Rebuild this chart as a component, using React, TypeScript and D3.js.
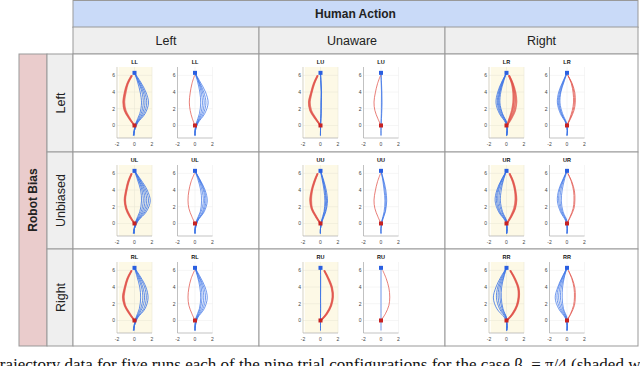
import React, { useEffect } from 'react';
import * as d3 from 'd3';

// table labels
const HUMAN_ACTIONS = ['Left', 'Unaware', 'Right'];
const ROBOT_BIASES = ['Left', 'Unbiased', 'Right'];
const CELL_IDS = [
  ['LL', 'LU', 'LR'],
  ['UL', 'UU', 'UR'],
  ['RL', 'RU', 'RR'],
];

// axis ticks
const X_TICKS = [-2, 0, 2];
const Y_TICKS = [0, 2, 4, 6];

// y levels the trajectories were sampled at (human walks up, robot walks down)
const RED_Y = [0, 0.8, 1.8, 2.8, 3.9, 5, 6];
const BLUE_Y = [6.3, 5.2, 4, 2.7, 1.4, 0.3, -0.6, -1.2];

// executed runs (shaded plot) - x at each RED_Y / BLUE_Y level
const execRed: Record<string, number[][]> = {
  LL: [[0, -0.55, -1.1, -1.25, -1.1, -0.8, -0.3], [0, -0.5, -1.0, -1.15, -1.0, -0.75, -0.25], [0, -0.6, -1.15, -1.3, -1.15, -0.85, -0.35]],
  LU: [[0, -0.55, -1.15, -1.3, -1.05, -0.75, -0.3], [0, -0.5, -1.05, -1.2, -1.0, -0.7, -0.3], [0, -0.6, -1.2, -1.35, -1.1, -0.8, -0.35]],
  LR: [[0.05, 0.55, 1.0, 1.15, 1.05, 0.75, 0.3], [0.05, 0.45, 0.85, 1.0, 0.95, 0.7, 0.3], [0.05, 0.35, 0.7, 0.85, 0.85, 0.65, 0.25], [0.05, 0.3, 0.6, 0.75, 0.75, 0.6, 0.25]],
  UL: [[0, -0.5, -0.95, -1.1, -0.95, -0.7, -0.3], [0, -0.45, -0.9, -1.05, -0.9, -0.65, -0.3], [0, -0.55, -1.0, -1.15, -1.0, -0.75, -0.35]],
  UU: [[0, -0.5, -1.0, -1.15, -1.0, -0.7, -0.3], [0, -0.45, -0.95, -1.05, -0.95, -0.65, -0.3], [0, -0.55, -1.05, -1.2, -1.05, -0.75, -0.35]],
  UR: [[0.05, 0.5, 0.95, 1.1, 1.0, 0.75, 0.35], [0.05, 0.45, 0.85, 1.0, 0.95, 0.7, 0.3], [0.05, 0.55, 1.0, 1.15, 1.05, 0.8, 0.35]],
  RL: [[0, -0.55, -1.1, -1.3, -1.1, -0.8, -0.3], [0, -0.5, -1.05, -1.2, -1.05, -0.75, -0.3], [0, -0.6, -1.15, -1.35, -1.15, -0.85, -0.35]],
  RU: [[0.05, 0.7, 1.2, 1.4, 1.3, 0.9, 0.4], [0.05, 0.65, 1.15, 1.35, 1.25, 0.85, 0.4], [0.05, 0.75, 1.25, 1.45, 1.35, 0.95, 0.45]],
  RR: [[0.05, 0.7, 1.2, 1.4, 1.35, 0.95, 0.4], [0.05, 0.65, 1.15, 1.35, 1.3, 0.9, 0.4], [0.05, 0.75, 1.25, 1.45, 1.4, 1.0, 0.45]],
};

const execBlue: Record<string, number[][]> = {
  LL: [[0, 0.7, 1.3, 1.6, 1.2, 0.35, 0, -0.15], [0, 0.6, 1.15, 1.4, 1.05, 0.3, 0, -0.1], [0, 0.5, 1.0, 1.2, 0.9, 0.25, -0.05, -0.1], [0, 0.45, 0.85, 1.0, 0.75, 0.2, -0.05, -0.05], [0, 0.35, 0.65, 0.8, 0.6, 0.15, 0, -0.05]],
  LU: [[0, 0.05, 0.1, 0.05, 0.08, 0.02, 0, 0], [0, 0.03, 0.12, 0.08, 0.05, 0, 0, -0.02], [0, 0.06, 0.08, 0.1, 0.06, 0.03, 0, 0]],
  LR: [[0, -0.55, -1.0, -1.2, -0.8, -0.1, 0.1, 0.05], [0, -0.5, -0.9, -1.05, -0.7, -0.05, 0.1, 0.05], [0, -0.45, -0.8, -0.95, -0.6, 0, 0.05, 0], [0, -0.4, -0.75, -0.85, -0.5, 0, 0.05, 0], [0, -0.35, -0.65, -0.75, -0.45, 0.05, 0.05, 0]],
  UL: [[0, 0.75, 1.45, 1.8, 1.35, 0.4, 0, -0.15], [0, 0.65, 1.3, 1.6, 1.2, 0.35, 0, -0.1], [0, 0.6, 1.15, 1.4, 1.05, 0.3, -0.05, -0.1], [0, 0.5, 1.0, 1.2, 0.9, 0.25, -0.05, -0.05], [0, 0.45, 0.85, 1.0, 0.75, 0.2, 0, -0.05], [0, 0.35, 0.7, 0.8, 0.6, 0.15, 0, 0]],
  UU: [[0, 0.35, 0.65, 0.8, 0.6, 0.2, 0, -0.05], [0, 0.3, 0.55, 0.7, 0.55, 0.15, 0, 0], [0, 0.25, 0.5, 0.6, 0.45, 0.15, 0, 0], [0, 0.2, 0.4, 0.5, 0.4, 0.1, 0, 0]],
  UR: [[0, -0.6, -1.1, -1.3, -0.9, -0.15, 0.1, 0.05], [0, -0.55, -1.0, -1.15, -0.8, -0.1, 0.05, 0.05], [0, -0.5, -0.9, -1.0, -0.7, -0.05, 0.05, 0], [0, -0.4, -0.75, -0.85, -0.55, 0, 0.05, 0], [0, -0.35, -0.6, -0.7, -0.45, 0, 0, 0]],
  RL: [[0, 0.7, 1.3, 1.55, 1.2, 0.35, 0, -0.15], [0, 0.6, 1.15, 1.35, 1.05, 0.3, 0, -0.1], [0, 0.5, 0.95, 1.15, 0.85, 0.25, -0.05, -0.1], [0, 0.4, 0.8, 0.95, 0.7, 0.2, -0.05, -0.05], [0, 0.3, 0.6, 0.7, 0.55, 0.15, 0, -0.05]],
  RU: [[0, 0, 0, 0, 0, 0, 0, 0], [0, 0.02, 0.02, 0.01, 0.02, 0, 0, 0]],
  RR: [[0, -0.65, -1.2, -1.5, -1.1, -0.2, 0.1, 0.05], [0, -0.55, -1.0, -1.15, -0.8, -0.1, 0.05, 0.05], [0, -0.45, -0.85, -0.95, -0.65, -0.05, 0.05, 0], [0, -0.35, -0.7, -0.75, -0.5, 0, 0.05, 0], [0, -0.3, -0.55, -0.6, -0.4, 0, 0, 0]],
};

// planned runs (unshaded plot)
const planRed: Record<string, number[][]> = {
  LL: [[0, -0.3, -0.55, -0.65, -0.55, -0.35, -0.05]],
  LU: [[0, -0.35, -0.7, -0.8, -0.65, -0.4, -0.05]],
  LR: [[0, 0.4, 0.8, 0.95, 0.9, 0.6, 0.1], [0, 0.35, 0.7, 0.85, 0.8, 0.55, 0.1], [0, 0.3, 0.6, 0.75, 0.7, 0.5, 0.1]],
  UL: [[0, -0.35, -0.7, -0.8, -0.7, -0.45, -0.05]],
  UU: [[0, -0.35, -0.7, -0.8, -0.65, -0.4, -0.05]],
  UR: [[0, 0.4, 0.8, 0.9, 0.85, 0.55, 0.1], [0, 0.35, 0.7, 0.8, 0.75, 0.5, 0.1]],
  RL: [[0, -0.35, -0.7, -0.8, -0.7, -0.45, -0.05]],
  RU: [[0, 0.5, 0.9, 1.0, 0.9, 0.6, 0.2]],
  RR: [[0, 0.45, 0.85, 0.95, 0.9, 0.6, 0.15], [0, 0.4, 0.75, 0.85, 0.8, 0.55, 0.15]],
};

const planBlue: Record<string, number[][]> = {
  LL: [[0, 0.6, 1.2, 1.5, 1.1, 0.35, 0.05, 0], [0, 0.5, 1.0, 1.25, 0.95, 0.3, 0.05, 0], [0, 0.45, 0.85, 1.05, 0.8, 0.25, 0, 0], [0, 0.4, 0.7, 0.85, 0.65, 0.2, 0, 0], [0, 0.3, 0.55, 0.65, 0.5, 0.15, 0, 0]],
  LU: [[0, 0.05, 0.1, 0.12, 0.08, 0.03, 0, 0], [0, 0.02, 0.06, 0.05, 0.04, 0, 0, 0]],
  LR: [[0, -0.5, -0.95, -1.1, -0.75, -0.15, 0.05, 0], [0, -0.45, -0.85, -1.0, -0.65, -0.1, 0.05, 0], [0, -0.4, -0.75, -0.9, -0.6, -0.1, 0.05, 0], [0, -0.35, -0.7, -0.8, -0.5, -0.05, 0, 0]],
  UL: [[0, 0.6, 1.15, 1.4, 1.05, 0.3, 0.05, 0], [0, 0.55, 1.05, 1.25, 0.95, 0.3, 0.05, 0], [0, 0.5, 0.95, 1.1, 0.85, 0.25, 0, 0], [0, 0.45, 0.8, 0.95, 0.7, 0.2, 0, 0], [0, 0.35, 0.65, 0.75, 0.6, 0.15, 0, 0]],
  UU: [[0, 0.3, 0.55, 0.65, 0.5, 0.15, 0, 0], [0, 0.25, 0.45, 0.55, 0.45, 0.1, 0, 0], [0, 0.2, 0.35, 0.45, 0.35, 0.1, 0, 0]],
  UR: [[0, -0.5, -0.95, -1.1, -0.75, -0.15, 0.05, 0], [0, -0.45, -0.85, -0.95, -0.65, -0.1, 0.05, 0], [0, -0.4, -0.7, -0.8, -0.55, -0.05, 0, 0], [0, -0.3, -0.55, -0.65, -0.45, 0, 0, 0]],
  RL: [[0, 0.6, 1.15, 1.4, 1.05, 0.3, 0.05, 0], [0, 0.5, 1.0, 1.2, 0.9, 0.25, 0.05, 0], [0, 0.45, 0.85, 1.0, 0.75, 0.2, 0, 0], [0, 0.35, 0.7, 0.8, 0.6, 0.15, 0, 0], [0, 0.3, 0.55, 0.65, 0.5, 0.1, 0, 0]],
  RU: [[0, 0, 0, 0, 0, 0, 0, 0]],
  RR: [[0, -0.55, -1.05, -1.35, -0.95, -0.2, 0.05, 0], [0, -0.5, -0.95, -1.15, -0.8, -0.15, 0.05, 0], [0, -0.45, -0.8, -0.95, -0.65, -0.1, 0, 0], [0, -0.35, -0.65, -0.75, -0.5, -0.05, 0, 0], [0, -0.3, -0.5, -0.55, -0.4, 0, 0, 0]],
};

// layout
const W = 640;
const H = 366;
const COL_X = [73, 259, 445, 638];
const ROW_Y = [54, 152, 249, 346];
const HEADER_Y = [0, 27, 54];
const BORDER = '#999';
const RED = '#e0534b';
const BLUE = '#3a72e6';

const Plot = ({ cx, cy, id, shaded }: { cx: number; cy: number; id: string; shaded: boolean }) => {
  // cx = pixel position of x=0, cy = top of the cell
  const x = d3.scaleLinear().domain([-2, 2]).range([cx - 17.5, cx + 17.5]);
  const y = d3.scaleLinear().domain([-1.5, 7]).range([cy + 84, cy + 13]);
  const line = d3.line<[number, number]>()
    .x(d => x(d[0]))
    .y(d => y(d[1]))
    .curve(d3.curveCatmullRom.alpha(0.5));

  const reds = shaded ? execRed[id] : planRed[id];
  const blues = shaded ? execBlue[id] : planBlue[id];

  return (
    <g>
      {shaded && (
        <rect x={x(-1.8)} y={y(7)} width={x(2) - x(-1.8)} height={y(-1.5) - y(7)} fill="#fdf9e6" />
      )}
      {/* grid */}
      {Y_TICKS.map(t => (
        <line key={'gy' + t} x1={x(-2)} x2={x(2)} y1={y(t)} y2={y(t)} stroke={shaded ? '#ebe7d6' : '#eeeeee'} strokeWidth={0.6} />
      ))}
      {X_TICKS.map(t => (
        <line key={'gx' + t} x1={x(t)} x2={x(t)} y1={y(7)} y2={y(-1.5)} stroke={shaded ? '#ebe7d6' : '#eeeeee'} strokeWidth={0.6} />
      ))}
      {/* axes */}
      <line x1={x(-2)} x2={x(-2)} y1={y(7)} y2={y(-1.5)} stroke={shaded ? '#d0cdc0' : '#aaa'} strokeWidth={0.7} />
      <line x1={x(-2)} x2={x(2)} y1={y(-1.5)} y2={y(-1.5)} stroke="#aaa" strokeWidth={0.7} />
      {Y_TICKS.map(t => (
        <text key={'ty' + t} x={x(-2) - 2} y={y(t) + 1.8} fontSize={5} textAnchor="end" fill="#444" fontFamily="Liberation Sans, Arial, sans-serif">{t}</text>
      ))}
      {X_TICKS.map(t => (
        <text key={'tx' + t} x={x(t)} y={y(-1.5) + 7.5} fontSize={5} textAnchor="middle" fill="#444" fontFamily="Liberation Sans, Arial, sans-serif">{t}</text>
      ))}
      <text x={x(0)} y={cy + 10} fontSize={5.5} fontWeight="bold" textAnchor="middle" fill="#111" fontFamily="Liberation Sans, Arial, sans-serif">{id}</text>
      {/* robot runs */}
      {blues.map((run, i) => (
        <path key={'b' + i} d={line(run.map((v, j) => [v, BLUE_Y[j]] as [number, number])) || ''} fill="none" stroke={BLUE} strokeWidth={shaded ? 1 : 0.9} strokeOpacity={0.8} />
      ))}
      {/* human runs */}
      {reds.map((run, i) => (
        <path key={'r' + i} d={line(run.map((v, j) => [v, RED_Y[j]] as [number, number])) || ''} fill="none" stroke={RED} strokeWidth={shaded ? 1.5 : 1} strokeOpacity={0.75} />
      ))}
      <rect x={x(0) - 2} y={y(6.3) - 2} width={4} height={4} fill="#2a5fe0" />
      <rect x={x(0) - 2} y={y(0) - 2} width={4} height={4} fill="#c62323" />
    </g>
  );
};

const App = () => {
  useEffect(() => {
    document.body.style.margin = '0';
  }, []);

  const sans = 'Liberation Sans, Arial, sans-serif';

  return (
    <svg width={W} height={H} style={{ display: 'block', background: '#fff' }}>
      {/* Human Action header */}
      <rect x={COL_X[0]} y={HEADER_Y[0] + 0.5} width={COL_X[3] - COL_X[0]} height={HEADER_Y[1] - HEADER_Y[0]} fill="#c9daf8" stroke={BORDER} />
      <text x={(COL_X[0] + COL_X[3]) / 2} y={18} textAnchor="middle" fontSize={12} fontWeight="bold" fontFamily={sans} fill="#222">Human Action</text>
      {HUMAN_ACTIONS.map((label, i) => (
        <g key={label}>
          <rect x={COL_X[i]} y={HEADER_Y[1]} width={COL_X[i + 1] - COL_X[i]} height={HEADER_Y[2] - HEADER_Y[1]} fill="#efefef" stroke={BORDER} />
          <text x={(COL_X[i] + COL_X[i + 1]) / 2} y={45} textAnchor="middle" fontSize={12.5} fontFamily={sans} fill="#222">{label}</text>
        </g>
      ))}

      {/* Robot Bias side header */}
      <rect x={19} y={ROW_Y[0]} width={28} height={ROW_Y[3] - ROW_Y[0]} fill="#eacccc" stroke={BORDER} />
      <text transform={`translate(37,${(ROW_Y[0] + ROW_Y[3]) / 2}) rotate(-90)`} textAnchor="middle" fontSize={12} fontWeight="bold" fontFamily={sans} fill="#222">Robot Bias</text>
      {ROBOT_BIASES.map((label, i) => (
        <g key={label}>
          <rect x={47} y={ROW_Y[i]} width={26} height={ROW_Y[i + 1] - ROW_Y[i]} fill="#efefef" stroke={BORDER} />
          <text transform={`translate(64.5,${(ROW_Y[i] + ROW_Y[i + 1]) / 2}) rotate(-90)`} textAnchor="middle" fontSize={12.5} fontFamily={sans} fill="#222">{label}</text>
        </g>
      ))}

      {/* cells */}
      {CELL_IDS.map((row, r) => row.map((id, c) => (
        <g key={id}>
          <rect x={COL_X[c]} y={ROW_Y[r]} width={COL_X[c + 1] - COL_X[c]} height={ROW_Y[r + 1] - ROW_Y[r]} fill="#fff" stroke={BORDER} />
          <Plot cx={COL_X[c] + 61.5} cy={ROW_Y[r]} id={id} shaded={true} />
          <Plot cx={COL_X[c] + 122} cy={ROW_Y[r]} id={id} shaded={false} />
        </g>
      )))}

      {/* caption (cut by the frame, as in the source) */}
      <text x={-5} y={370} fontSize={17} fontFamily="Liberation Serif, Times New Roman, serif" fill="#111">
        trajectory data for five runs each of the nine trial configurations for the case β<tspan fontSize={12} dy={3}>r</tspan><tspan dy={-3}> = π/4 (shaded w</tspan>
      </text>
    </svg>
  );
};

export default App;
